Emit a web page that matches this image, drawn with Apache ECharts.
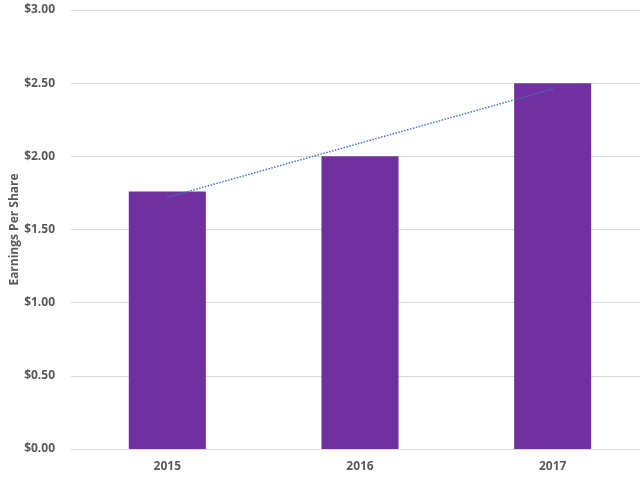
<!DOCTYPE html>
<html>
<head>
<meta charset="utf-8">
<script src="https://cdn.jsdelivr.net/npm/echarts@6/dist/echarts.min.js"></script>
<style>
  html, body { margin: 0; padding: 0; background: #fff; }
  #chart { width: 640px; height: 481px; }
</style>
</head>
<body>
<div id="chart"></div>
<script>
// dane
const years = ['2015', '2016', '2017'];
const eps = [1.76, 2.00, 2.50];
const trend = [1.72, 2.09, 2.46]; // linia trendu (liniowa)

const chart = echarts.init(document.getElementById('chart'));

const labelFont = {
  color: '#595959',
  fontFamily: 'Open Sans, sans-serif',
  fontWeight: 'bold',
  fontSize: 12
};

chart.setOption({
  animation: false,
  grid: {
    left: 71, right: -9, top: 10, bottom: 32,
    containLabel: false,
    outerBoundsMode: 'none'
  },
  xAxis: {
    type: 'category',
    data: years,
    axisTick: { show: false },
    axisLine: { lineStyle: { color: '#d9d9d9' } },
    axisLabel: Object.assign({ margin: 12 }, labelFont)
  },
  yAxis: {
    type: 'value',
    min: 0,
    max: 3,
    interval: 0.5,
    name: 'Earnings Per Share',
    nameLocation: 'middle',
    nameGap: 50,
    nameMoveOverlap: false,
    nameTextStyle: labelFont,
    axisLine: { show: false },
    axisTick: { show: false },
    splitLine: { lineStyle: { color: '#d9d9d9' } },
    axisLabel: Object.assign({
      margin: 16,
      formatter: v => '$' + v.toFixed(2)
    }, labelFont)
  },
  series: [
    {
      type: 'bar',
      data: eps,
      barWidth: '40%',
      itemStyle: { color: '#7030A0' }
    },
    {
      type: 'line',
      data: trend,
      symbol: 'none',
      lineStyle: { color: '#4472C4', width: 1.5, type: [1.5, 1.5] },
      z: 3
    }
  ]
});
</script>
</body>
</html>
